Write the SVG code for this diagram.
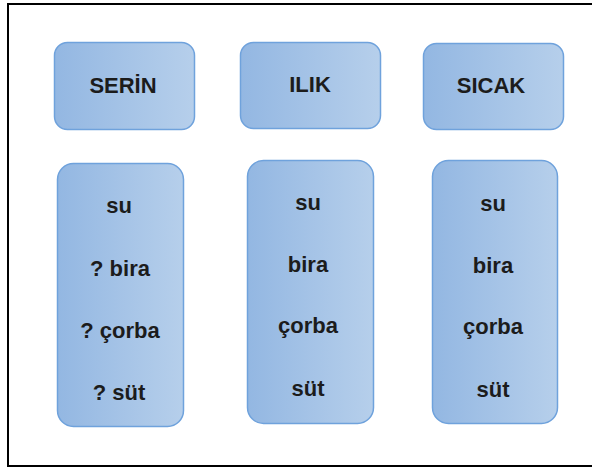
<svg xmlns="http://www.w3.org/2000/svg" width="592" height="470" viewBox="0 0 592 470">
<defs>
<linearGradient id="g" x1="0" y1="0" x2="1" y2="0">
<stop offset="0" stop-color="#93b7e2"/>
<stop offset="1" stop-color="#b6cfeb"/>
</linearGradient>
<style>
.box{fill:url(#g);stroke:#6fa2dc;stroke-width:1.5}
.t{font-family:"Liberation Sans",Arial,sans-serif;font-weight:bold;font-size:22px;fill:#1c1c1c;text-anchor:middle}
</style>
</defs>
<rect x="0" y="0" width="592" height="470" fill="#ffffff"/>
<rect x="8" y="4" width="592" height="462" fill="none" stroke="#000000" stroke-width="2"/>
<g id="connectors"></g>
<g id="serin"><rect class="box" x="54.5" y="42.5" width="140" height="87" rx="13"/><text class="t" x="123" y="93">SERİN</text></g>
<g id="ilik"><rect class="box" x="240.5" y="42.5" width="140" height="86" rx="13"/><text class="t" x="310" y="92">ILIK</text></g>
<g id="sicak"><rect class="box" x="423.5" y="43.5" width="140" height="86" rx="13"/><text class="t" x="491" y="93">SICAK</text></g>
<g id="col1"><rect class="box" x="57.5" y="163.5" width="126" height="263" rx="16"/>
<text class="t" x="119" y="213">su</text>
<text class="t" x="120" y="276">? bira</text>
<text class="t" x="120" y="338">? çorba</text>
<text class="t" x="119" y="400">? süt</text></g>
<g id="col2"><rect class="box" x="247.5" y="160.5" width="126" height="263" rx="16"/>
<text class="t" x="308" y="210">su</text>
<text class="t" x="308" y="272">bira</text>
<text class="t" x="308" y="333">çorba</text>
<text class="t" x="308" y="396">süt</text></g>
<g id="col3"><rect class="box" x="432.5" y="160.5" width="125" height="263" rx="16"/>
<text class="t" x="493" y="211">su</text>
<text class="t" x="493" y="273">bira</text>
<text class="t" x="493" y="334">çorba</text>
<text class="t" x="493" y="397">süt</text></g>
</svg>
